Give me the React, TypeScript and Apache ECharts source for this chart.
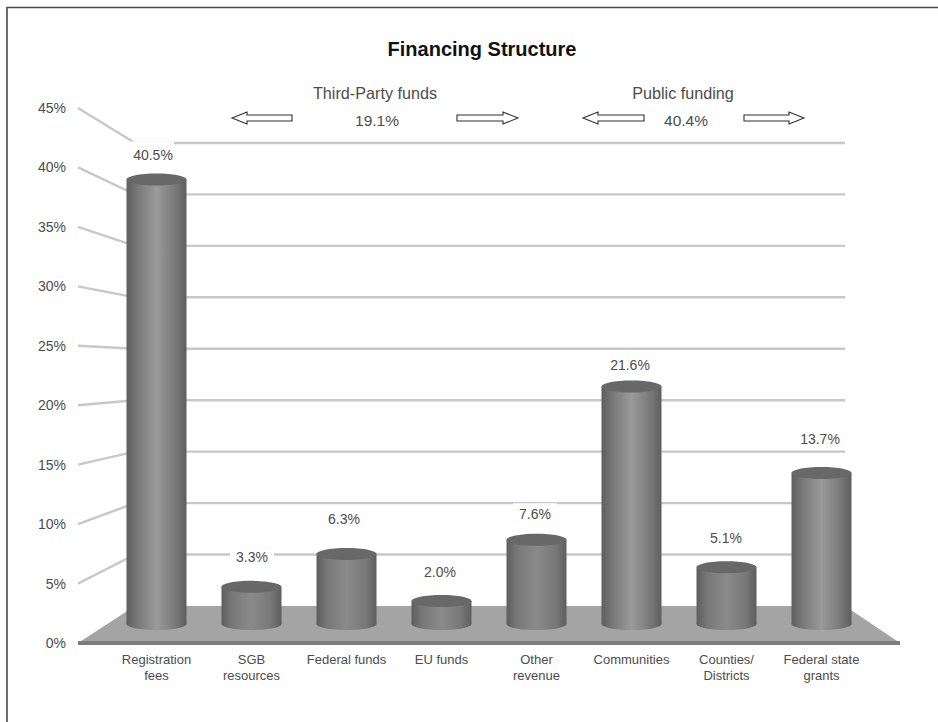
import React, { useEffect, useRef } from "react";
import * as echarts from "echarts";

const title = "Financing Structure";
const categories = [
  "Registration\nfees",
  "SGB\nresources",
  "Federal funds",
  "EU funds",
  "Other\nrevenue",
  "Communities",
  "Counties/\nDistricts",
  "Federal state\ngrants",
];
const shares = [40.5, 3.3, 6.3, 2.0, 7.6, 21.6, 5.1, 13.7];
const axisTicks = [0, 5, 10, 15, 20, 25, 30, 35, 40, 45];
const groupNames = ["Third-Party funds", "Public funding"];
const groupShares = ["19.1%", "40.4%"];

// Layout of the pseudo-3D scene (pixels)
const FRONT_X = 78;
const BACK_X = 135;
const BACK_END_X = 845;
const FRONT_END_X = 900;
const DEPTH_LIFT = 37;
const DEPTH_SCALE = 0.8655;
const BAR_LIFT = 20;
const BAR_SCALE = 0.921;
const RX = 30;
const RY = 6;
const LABEL_LIFT = [25, 30, 35, 29, 26, 21, 29, 34];
const LABEL_SHIFT = [-3.5, 0.5, -2.5, -1.5, -1.5, -1.5, -0.5, -1.5];
const LABEL_PAD = [
  [9, 1, 3, 13],
  [3, 6, 3, 6],
  [8, 6, 3, 5],
  [3, 5, 3, 5],
  [4, 6, 3, 6],
  [2, 5, 3, 5],
  [2, 5, 3, 5],
  [2, 5, 3, 5],
];

const FONT = '"Liberation Sans", Arial, sans-serif';
const TEXT = "#4c4c4c";

function arrow(tipX: number, tailX: number, y: number) {
  const d = tailX > tipX ? 15 : -15;
  return {
    type: "polygon",
    silent: true,
    shape: {
      points: [
        [tipX, y],
        [tipX + d, y - 6],
        [tipX + d, y - 3],
        [tailX, y - 3],
        [tailX, y + 3],
        [tipX + d, y + 3],
        [tipX + d, y + 6],
      ],
    },
    style: { fill: "#fff", stroke: "#2e2e2e", lineWidth: 1.1 },
  };
}

function annotation(text: string, x: number, y: number, size: number) {
  return {
    type: "text",
    silent: true,
    x,
    y,
    style: {
      text,
      font: `${size}px ${FONT}`,
      fill: TEXT,
      align: "center",
      verticalAlign: "middle",
    },
  };
}

function renderWall(params: any, api: any) {
  const base = api.coord([0, 0])[1];
  const y = api.coord([0, api.value(1)])[1];
  const back = base - DEPTH_LIFT - (base - y) * DEPTH_SCALE;
  const lineStyle = { stroke: "#c8c8c8", lineWidth: 2.4, fill: "none" };
  const children: any[] = [];
  if (api.value(1) === 0) {
    children.push({
      type: "polygon",
      shape: {
        points: [
          [FRONT_X, base],
          [BACK_X, back],
          [BACK_END_X, back],
          [FRONT_END_X, base],
        ],
      },
      style: { fill: "#a4a4a4" },
    });
    children.push({
      type: "line",
      shape: { x1: FRONT_X, y1: base, x2: FRONT_END_X, y2: base },
      style: { stroke: "#7c7c7c", lineWidth: 4 },
    });
  } else {
    children.push({
      type: "line",
      shape: { x1: FRONT_X, y1: y, x2: BACK_X, y2: back },
      style: lineStyle,
    });
    children.push({
      type: "line",
      shape: { x1: BACK_X, y1: back, x2: BACK_END_X, y2: back },
      style: lineStyle,
    });
  }
  return { type: "group", children };
}

function renderCylinder(params: any, api: any) {
  const i = api.value(0);
  const v = api.value(1);
  const base = api.coord([0, 0])[1];
  const x = api.coord([i, v])[0];
  const front = api.coord([i, v])[1];
  const top = base - BAR_LIFT - (base - front) * BAR_SCALE;
  const foot = base - BAR_LIFT + 1;
  const body = new echarts.graphic.LinearGradient(0, 0, 1, 0, [
    { offset: 0, color: "#5e5e5e" },
    { offset: 0.18, color: "#787878" },
    { offset: 0.5, color: v > 10 ? "#9a9a9a" : "#8a8a8a" },
    { offset: 0.82, color: "#787878" },
    { offset: 1, color: "#5e5e5e" },
  ]);
  const k = params.dataIndex;
  const pad = LABEL_PAD[k];
  return {
    type: "group",
    children: [
      {
        type: "ellipse",
        shape: { cx: x, cy: foot, rx: RX, ry: RY },
        style: { fill: body },
      },
      {
        type: "rect",
        shape: { x: x - RX, y: top, width: RX * 2, height: foot - top },
        style: { fill: body },
      },
      {
        type: "ellipse",
        shape: { cx: x, cy: top, rx: RX, ry: RY },
        style: { fill: "#686868" },
      },
      {
        type: "text",
        z2: 10,
        x: x + LABEL_SHIFT[k] - (pad[3] - pad[1]) / 2,
        y: top - LABEL_LIFT[k],
        style: {
          text: `${v.toFixed(1)}%`,
          font: `14px ${FONT}`,
          fill: TEXT,
          align: "center",
          verticalAlign: "middle",
          backgroundColor: "#fff",
          padding: pad,
        },
      },
    ],
  };
}

export default function App() {
  const ref = useRef<HTMLDivElement>(null);

  useEffect(() => {
    const chart = echarts.init(ref.current!, undefined, { renderer: "svg" });
    chart.setOption({
      animation: false,
      backgroundColor: "#fff",
      title: {
        text: title,
        left: 477,
        top: 34,
        textAlign: "center",
        textStyle: { fontFamily: FONT, fontSize: 20, fontWeight: "bold", color: "#111" },
      },
      grid: { left: 109, top: 108, width: 760, height: 535 },
      xAxis: {
        type: "category",
        data: categories,
        axisLine: { show: false },
        axisTick: { show: false },
        splitLine: { show: false },
        axisLabel: {
          interval: 0,
          margin: 8,
          fontFamily: FONT,
          fontSize: 13,
          lineHeight: 16,
          color: TEXT,
        },
      },
      yAxis: {
        type: "value",
        min: 0,
        max: 45,
        interval: 5,
        axisLine: { show: false },
        axisTick: { show: false },
        splitLine: { show: false },
        axisLabel: {
          margin: 43,
          formatter: "{value}%",
          fontFamily: FONT,
          fontSize: 14,
          color: TEXT,
        },
      },
      series: [
        {
          type: "custom",
          name: "Walls",
          z: 1,
          clip: false,
          silent: true,
          renderItem: renderWall,
          encode: { x: 0, y: 1 },
          data: axisTicks.map((t) => [0, t]),
        },
        {
          type: "custom",
          name: "Share",
          z: 3,
          clip: false,
          silent: true,
          renderItem: renderCylinder,
          encode: { x: 0, y: 1 },
          data: shares.map((s, i) => [i, s]),
        },
      ],
      graphic: [
        {
          type: "polyline",
          silent: true,
          shape: { points: [[7, 722], [7, 7.5], [938, 7.5]] },
          style: { stroke: "#4a4a4a", lineWidth: 1.6, fill: "none" },
        },
        annotation(groupNames[0], 375, 93, 16.2),
        annotation(groupShares[0], 377, 120, 15.5),
        annotation(groupNames[1], 683, 93, 16.2),
        annotation(groupShares[1], 686, 120, 15.5),
        arrow(232, 292, 118),
        arrow(518, 457, 118),
        arrow(583, 644, 118),
        arrow(804, 744, 118),
      ],
    });
    return () => chart.dispose();
  }, []);

  return (
    <div
      ref={ref}
      style={{ position: "fixed", left: 0, top: 0, width: 938, height: 722, background: "#fff" }}
    />
  );
}
